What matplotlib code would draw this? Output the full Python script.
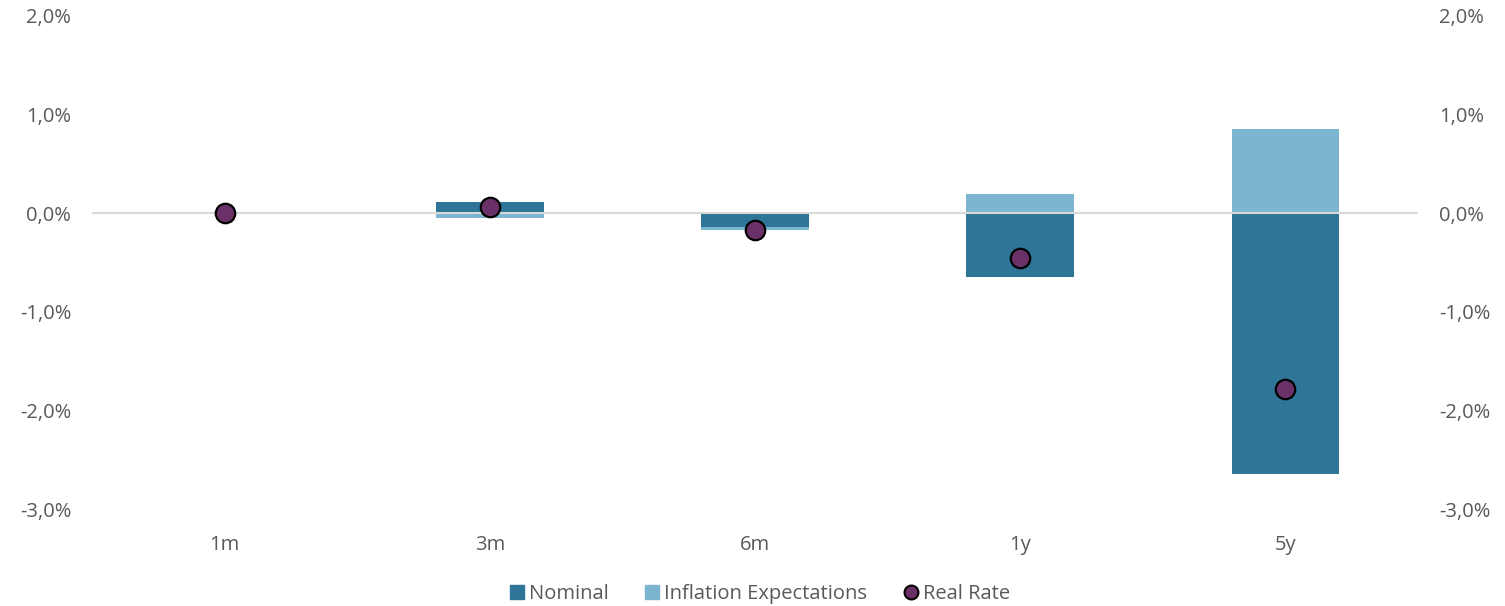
import numpy as np
import matplotlib
matplotlib.use("Agg")
import matplotlib.pyplot as plt
from matplotlib.ticker import FuncFormatter
from matplotlib.lines import Line2D
from matplotlib.patches import Patch

categories = ["1m", "3m", "6m", "1y", "5y"]
nominal = [0.0, 0.11, -0.14, -0.645, -2.64]
inflation = [0.0, -0.05, -0.03, 0.19, 0.85]
real_rate = [0.0, 0.06, -0.17, -0.45, -1.78]
yticks = [-3, -2, -1, 0, 1, 2]

c_nom = "#2E7598"
c_inf = "#7BB5CF"
c_real = "#6A3068"
c_text = "#595959"

plt.rcParams['font.family'] = ['Open Sans', 'DejaVu Sans']
fs = 14.5

fig = plt.figure(figsize=(15.05, 6.06), dpi=100)
ax = fig.add_axes([92/1505, 1-509/606, (1418-92)/1505, (509-16)/606])

x = np.arange(len(categories))
nom = np.array(nominal)
inf = np.array(inflation)
# stacked with sign-separated bases (like Excel)
inf_bottom = np.where(np.sign(inf) == np.sign(nom), nom, 0.0)
w = 0.405
ax.bar(x, nom, width=w, color=c_nom, zorder=2)
ax.bar(x, inf, bottom=inf_bottom, width=w, color=c_inf, zorder=2)
ax.axhline(0, color="#D9D9D9", lw=1.5, zorder=2.5)
ax.plot(x, real_rate, 'o', ms=14, mfc=c_real, mec="black", mew=1.6, zorder=3)

ax.set_xlim(-0.5, len(categories)-0.5)
ax.set_ylim(-3, 2)
ax.set_yticks(yticks)
fmt = FuncFormatter(lambda v, p: f"{v:.1f}%".replace(".", ","))
ax.yaxis.set_major_formatter(fmt)
ax.set_xticks(x)
ax.set_xticklabels(categories)
for s in ax.spines.values():
    s.set_visible(False)
ax.tick_params(axis='both', length=0, labelsize=fs, colors=c_text)
ax.tick_params(axis='y', pad=15)
ax.tick_params(axis='x', pad=19)

ax2 = ax.twinx()
ax2.set_ylim(-3, 2)
ax2.set_yticks(yticks)
ax2.yaxis.set_major_formatter(fmt)
for s in ax2.spines.values():
    s.set_visible(False)
ax2.tick_params(axis='y', length=0, labelsize=fs, colors=c_text, pad=15)

handles = [Patch(color=c_nom, label="Nominal"),
           Patch(color=c_inf, label="Inflation Expectations"),
           Line2D([], [], marker='o', ls='none', ms=10, mfc=c_real, mec='black', mew=1.5, label="Real Rate")]
fig.legend(handles=handles, loc='center', bbox_to_anchor=(760/1505, 1-594/606), ncol=3,
           frameon=False, fontsize=fs, labelcolor=c_text, handlelength=0.7, handleheight=0.7,
           handletextpad=0.25, columnspacing=1.8)

fig.savefig("out.png", dpi=100)
